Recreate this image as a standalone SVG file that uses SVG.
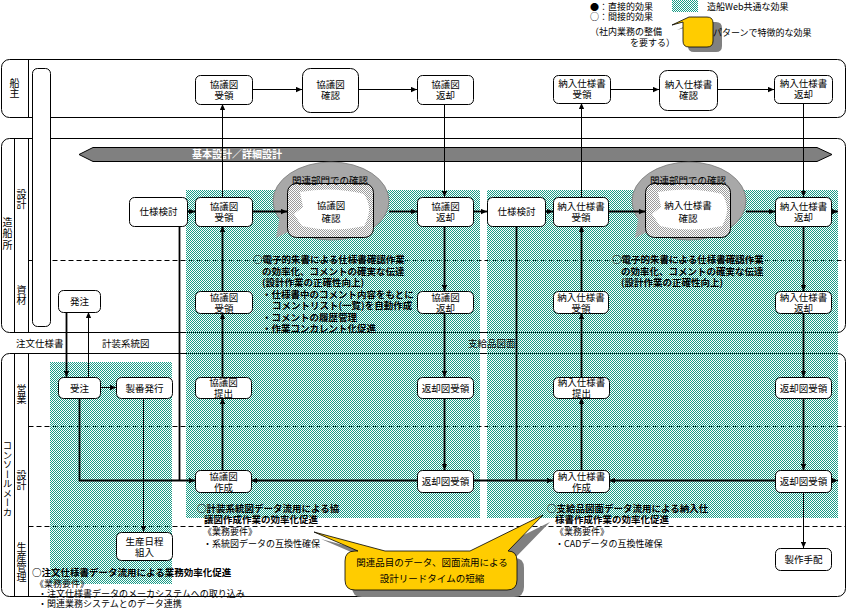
<svg xmlns="http://www.w3.org/2000/svg" width="847" height="612" viewBox="0 0 847 612">
<style>
text{font-family:"Noto Sans CJK JP","Noto Sans CJK SC",sans-serif;fill:#000}
.t{font-size:9.5px;text-anchor:middle}
.s{font-size:9px}
.b{font-size:9.5px;font-weight:bold}
.m{font-size:9.5px}
.v{font-size:10px;writing-mode:vertical-rl;text-anchor:middle}
.lane{fill:none;stroke:#000;stroke-width:1}
.sep{stroke:#000;stroke-width:1}
.dash{stroke:#000;stroke-width:1;stroke-dasharray:5 3}
.n rect{fill:#fff;stroke:#000;stroke-width:1}
.c path{fill:none;stroke:#000;marker-end:url(#a)}
.c .k{stroke-width:1.8}
.c .th{stroke-width:1}
.c .nm{marker-end:none}
</style>
<defs>
<pattern id="teal" width="2" height="2" patternUnits="userSpaceOnUse"><rect x="0" y="0" width="1" height="1" fill="#179c86"/><rect x="1" y="1" width="1" height="1" fill="#179c86"/></pattern>
<pattern id="lg" width="2" height="2" patternUnits="userSpaceOnUse"><rect width="2" height="2" fill="#fff"/><rect x="0" y="0" width="1" height="1" fill="#9a9a9a"/><rect x="1" y="1" width="1" height="1" fill="#9a9a9a"/></pattern>
<marker id="a" viewBox="0 0 8 8" refX="8" refY="4" markerWidth="6" markerHeight="6" orient="auto" markerUnits="userSpaceOnUse"><path d="M0,0.5 L8,4 L0,7.5 Z" fill="#000"/></marker>
</defs>
<rect width="847" height="612" fill="#fff"/>

<g id="legend">
<text class="s" x="590" y="10">●：直接的効果</text>
<text class="s" x="590" y="20">○：間接的効果</text>
<text class="s" x="590" y="35">（社内業務の整備</text>
<text class="s" x="630" y="46">を要する）</text>
<rect x="672" y="0" width="26" height="12" fill="url(#teal)"/>
<text class="s" x="707" y="10">造船Web共通な効果</text>
<path d="M694 22 L677 30 L688 27 L688 46 Q688 52 694 52 L716 52 Q722 52 722 46 L722 28 Q722 22 716 22 Z" fill="#808080"/>
<path d="M689 17 L672 25 L683 22 L683 41 Q683 47 689 47 L707 47 Q713 47 713 41 L713 23 Q713 17 707 17 Z" fill="#ffcc00" stroke="#000" stroke-width="0.8"/>
<text class="s" x="713" y="36">パターンで特徴的な効果</text>
</g>

<g id="lanes">
<rect class="lane" x="1.5" y="59.5" width="844" height="58" rx="8"/>
<line class="sep" x1="28.5" y1="59.5" x2="28.5" y2="117.5"/>
<rect class="lane" x="1.5" y="138.5" width="844" height="194" rx="8"/>
<line class="sep" x1="14.5" y1="138.5" x2="14.5" y2="332.5"/>
<line class="sep" x1="28.5" y1="138.5" x2="28.5" y2="332.5"/>
<line class="dash" x1="28.5" y1="260.5" x2="845.5" y2="260.5"/>
<rect class="lane" x="1.5" y="353.5" width="844" height="243" rx="8"/>
<line class="sep" x1="14.5" y1="353.5" x2="14.5" y2="596.5"/>
<line class="sep" x1="28.5" y1="353.5" x2="28.5" y2="596.5"/>
<line class="dash" x1="28.5" y1="426.5" x2="845.5" y2="426.5"/>
<line class="dash" x1="28.5" y1="526.5" x2="845.5" y2="526.5"/>
<text class="v" x="14.5" y="88">船主</text>
<text class="v" x="7.5" y="234" style="letter-spacing:1.5px">造船所</text>
<text class="v" x="21.5" y="199">設計</text>
<text class="v" x="21.5" y="295">資材</text>
<text class="v" x="21.5" y="394">営業</text>
<text class="v" x="21.5" y="480">設計</text>
<text class="v" x="21.5" y="562">生産管理</text>
<text class="v" x="7.5" y="479" style="font-size:9.5px">コンソールメーカ</text>
<rect x="32.5" y="68.5" width="18" height="258" rx="5" fill="#fff" stroke="#000"/>
</g>

<g id="effect-areas">
<rect x="50" y="362" width="122" height="222" fill="url(#teal)"/>
<rect x="186" y="190" width="294" height="328" fill="url(#teal)"/>
<rect x="487" y="190" width="351" height="328" fill="url(#teal)"/>
</g>

<g id="flow-labels">
<text class="m" x="16" y="346.5">注文仕様書</text>
<text class="m" x="102" y="346.5">計装系統図</text>
<text class="m" x="468" y="346.5">支給品図面</text>
</g>

<g id="phase-band">
<path d="M79 154.5 L93 147.5 L817 147.5 L832 154.5 L817 161.5 L93 161.5 Z" fill="#808080" stroke="#000" stroke-width="1"/>
<text x="237" y="158" style="font-size:10px;font-weight:bold;text-anchor:middle;fill:#fff">基本設計／詳細設計</text>
</g>

<g id="bubble-kyogizu">
<ellipse cx="331" cy="201" rx="58" ry="39" fill="#a8a8a8" stroke="#777" stroke-width="0.8"/>
<path d="M280 214 L292 230 L276 238 Z" fill="#a8a8a8"/>
<rect x="287.5" y="183.5" width="86" height="54" rx="9" fill="url(#lg)" stroke="#000"/>
<path d="M300 192 Q332 186 364 194 Q374 209 364 226 Q332 233 302 226 L294 214 L303 207 Z" fill="#fff"/>
<text class="m" x="330" y="183.5" style="text-anchor:middle">関連部門での確認</text>
<text class="t" x="331" y="208.5">協議図</text>
<text class="t" x="331" y="221.5">確認</text>
</g>
<g id="bubble-nonyu">
<ellipse cx="689" cy="201" rx="57" ry="39" fill="#a8a8a8" stroke="#777" stroke-width="0.8"/>
<path d="M639 214 L651 230 L635 238 Z" fill="#a8a8a8"/>
<rect x="645.5" y="183.5" width="85" height="54" rx="9" fill="url(#lg)" stroke="#000"/>
<path d="M658 192 Q690 186 722 194 Q732 209 722 226 Q690 233 660 226 L652 214 L661 207 Z" fill="#fff"/>
<text class="m" x="688" y="183.5" style="text-anchor:middle">関連部門での確認</text>
<text class="t" x="688" y="208.5">納入仕様書</text>
<text class="t" x="688" y="221.5">確認</text>
</g>

<g class="c" id="connectors">
<path class="th" d="M252 89.5H302"/>
<path class="th" d="M358 89.5H417"/>
<path class="th" d="M610 89.5H659"/>
<path class="th" d="M717 89.5H774"/>
<path class="th" d="M222.5 197V104"/>
<path class="th" d="M444.5 104V197"/>
<path class="th" d="M581.5 197V103"/>
<path class="th" d="M803.5 103V197"/>
<path class="k" d="M187 211.5H195"/>
<path class="k" d="M252 211.5H287"/>
<path class="k" d="M389 211.5H417"/>
<path class="k" d="M473 211.5H487"/>
<path class="k" d="M545 211.5H553"/>
<path class="k" d="M608 211.5H645"/>
<path class="k" d="M746 211.5H775"/>
<path class="k" d="M831 211.5H838"/>
<path class="k" d="M222.5 291V226"/>
<path class="k" d="M444.5 226V291"/>
<path class="k" d="M581.5 291V226"/>
<path class="k" d="M803.5 226V291"/>
<path class="k nm" d="M179.5 226V480.5"/>
<path class="k nm" d="M516.5 226V480.5"/>
<path class="k" d="M66.5 312V377"/>
<path class="th" d="M88.5 377V312"/>
<path class="k" d="M222.5 377V313"/>
<path class="k" d="M444.5 313V377"/>
<path class="k" d="M581.5 377V313"/>
<path class="k" d="M803.5 313V377"/>
<path class="th" d="M100 387.5H116"/>
<path class="k" d="M79.5 398V480.5H195"/>
<path class="th" d="M143.5 398V532"/>
<path class="k" d="M222.5 470V398"/>
<path class="k" d="M444.5 398V470"/>
<path class="k" d="M417 480.5H251"/>
<path class="k" d="M473 480.5H553"/>
<path class="k" d="M581.5 470V398"/>
<path class="k" d="M803.5 398V470"/>
<path class="k" d="M775 480.5H609"/>
<path class="th" d="M831 480.5H838"/>
<path class="th" d="M803.5 492V548"/>
</g>

<g class="n" id="n-kyogizu-juryo-shu"><rect x="195.5" y="75.5" width="57" height="29" rx="5"/><text class="t" x="224" y="87.5">協議図</text><text class="t" x="224" y="98.5">受領</text></g>
<g class="n" id="n-kyogizu-kakunin-shu"><rect x="302.5" y="68.5" width="56" height="44" rx="8"/><text class="t" x="330.5" y="88">協議図</text><text class="t" x="330.5" y="99">確認</text></g>
<g class="n" id="n-kyogizu-henkyaku-shu"><rect x="417.5" y="75.5" width="56" height="29" rx="5"/><text class="t" x="445.5" y="87.5">協議図</text><text class="t" x="445.5" y="98.5">返却</text></g>
<g class="n" id="n-nonyu-juryo-shu"><rect x="553.5" y="75.5" width="57" height="28" rx="5"/><text class="t" x="582" y="87">納入仕様書</text><text class="t" x="582" y="98">受領</text></g>
<g class="n" id="n-nonyu-kakunin-shu"><rect x="659.5" y="70.5" width="58" height="40" rx="8"/><text class="t" x="688.5" y="88">納入仕様書</text><text class="t" x="688.5" y="99">確認</text></g>
<g class="n" id="n-nonyu-henkyaku-shu"><rect x="774.5" y="75.5" width="58" height="28" rx="5"/><text class="t" x="803.5" y="87">納入仕様書</text><text class="t" x="803.5" y="98">返却</text></g>

<g class="n" id="n-shiyo-kento-1"><rect x="129.5" y="197.5" width="58" height="29" rx="5"/><text class="t" x="158.5" y="215">仕様検討</text></g>
<g class="n" id="n-kyogizu-juryo-sekkei"><rect x="195.5" y="197.5" width="57" height="29" rx="5"/><text class="t" x="224" y="209.5">協議図</text><text class="t" x="224" y="220.5">受領</text></g>
<g class="n" id="n-kyogizu-henkyaku-sekkei"><rect x="417.5" y="197.5" width="56" height="29" rx="5"/><text class="t" x="445.5" y="209.5">協議図</text><text class="t" x="445.5" y="220.5">返却</text></g>
<g class="n" id="n-shiyo-kento-2"><rect x="487.5" y="197.5" width="58" height="29" rx="5"/><text class="t" x="516.5" y="215">仕様検討</text></g>
<g class="n" id="n-nonyu-juryo-sekkei"><rect x="553.5" y="197.5" width="55" height="29" rx="5"/><text class="t" x="581" y="209.5">納入仕様書</text><text class="t" x="581" y="220.5">受領</text></g>
<g class="n" id="n-nonyu-henkyaku-sekkei"><rect x="775.5" y="197.5" width="56" height="29" rx="5"/><text class="t" x="803.5" y="209.5">納入仕様書</text><text class="t" x="803.5" y="220.5">返却</text></g>

<g class="n" id="n-hachu"><rect x="58.5" y="290.5" width="42" height="22" rx="5"/><text class="t" x="79.5" y="305">発注</text></g>
<g class="n" id="n-kyogizu-juryo-shizai"><rect x="195.5" y="291.5" width="57" height="22" rx="5"/><text class="t" x="224" y="300.5">協議図</text><text class="t" x="224" y="311.5">受領</text></g>
<g class="n" id="n-kyogizu-henkyaku-shizai"><rect x="417.5" y="291.5" width="56" height="22" rx="5"/><text class="t" x="445.5" y="300.5">協議図</text><text class="t" x="445.5" y="311.5">返却</text></g>
<g class="n" id="n-nonyu-juryo-shizai"><rect x="553.5" y="291.5" width="55" height="22" rx="5"/><text class="t" x="581" y="300.5">納入仕様書</text><text class="t" x="581" y="311.5">受領</text></g>
<g class="n" id="n-nonyu-henkyaku-shizai"><rect x="775.5" y="291.5" width="56" height="22" rx="5"/><text class="t" x="803.5" y="300.5">納入仕様書</text><text class="t" x="803.5" y="311.5">返却</text></g>

<g class="n" id="n-juchu"><rect x="58.5" y="377.5" width="42" height="21" rx="5"/><text class="t" x="79.5" y="391.5">受注</text></g>
<g class="n" id="n-seiban"><rect x="116.5" y="377.5" width="56" height="21" rx="5"/><text class="t" x="144.5" y="391.5">製番発行</text></g>
<g class="n" id="n-kyogizu-teishutsu"><rect x="195.5" y="377.5" width="56" height="21" rx="5"/><text class="t" x="223.5" y="386">協議図</text><text class="t" x="223.5" y="397">提出</text></g>
<g class="n" id="n-henkyakuzu-1"><rect x="417.5" y="377.5" width="56" height="21" rx="5"/><text class="t" x="445.5" y="391.5">返却図受領</text></g>
<g class="n" id="n-nonyu-teishutsu"><rect x="553.5" y="377.5" width="56" height="21" rx="5"/><text class="t" x="581.5" y="386">納入仕様書</text><text class="t" x="581.5" y="397">提出</text></g>
<g class="n" id="n-henkyakuzu-2"><rect x="775.5" y="377.5" width="56" height="21" rx="5"/><text class="t" x="803.5" y="391.5">返却図受領</text></g>

<g class="n" id="n-kyogizu-sakusei"><rect x="195.5" y="470.5" width="56" height="22" rx="5"/><text class="t" x="223.5" y="479.5">協議図</text><text class="t" x="223.5" y="490.5">作成</text></g>
<g class="n" id="n-henkyakuzu-3"><rect x="417.5" y="470.5" width="56" height="22" rx="5"/><text class="t" x="445.5" y="485">返却図受領</text></g>
<g class="n" id="n-nonyu-sakusei"><rect x="553.5" y="470.5" width="56" height="22" rx="5"/><text class="t" x="581.5" y="479.5">納入仕様書</text><text class="t" x="581.5" y="490.5">作成</text></g>
<g class="n" id="n-henkyakuzu-4"><rect x="775.5" y="470.5" width="56" height="22" rx="5"/><text class="t" x="803.5" y="485">返却図受領</text></g>

<g class="n" id="n-seisan-nittei"><rect x="116.5" y="532.5" width="56" height="28" rx="5"/><text class="t" x="144.5" y="545">生産日程</text><text class="t" x="144.5" y="556">組入</text></g>
<g class="n" id="n-seisaku-tehai"><rect x="775.5" y="548.5" width="56" height="22" rx="5"/><text class="t" x="803.5" y="563">製作手配</text></g>

<g id="notes">
<text class="b" x="253" y="262.5">○電子的朱書による仕様書確認作業</text>
<text class="b" x="262" y="274.5">の効率化、コメントの確実な伝達</text>
<text class="b" x="262" y="286">(設計作業の正確性向上)</text>
<text class="b" x="262" y="297.5">・仕様書中のコメント内容をもとに</text>
<text class="b" x="272" y="309">コメントリスト(一覧)を自動作成</text>
<text class="b" x="262" y="320.5">・コメントの履歴管理</text>
<text class="b" x="262" y="332">・作業コンカレント化促進</text>

<text class="b" x="612" y="262.5">○電子的朱書による仕様書確認作業</text>
<text class="b" x="621" y="274.5">の効率化、コメントの確実な伝達</text>
<text class="b" x="621" y="286">(設計作業の正確性向上)</text>

<text class="b" x="197" y="511.5">○計装系統図データ流用による協</text>
<text class="b" x="204" y="522.5">議図作成作業の効率化促進</text>
<text class="s" x="203" y="535">《業務要件》</text>
<text class="s" x="203" y="546.5">・系統図データの互換性確保</text>

<text class="b" x="547" y="511.5">○支給品図面データ流用による納入仕</text>
<text class="b" x="555" y="522.5">様書作成作業の効率化促進</text>
<text class="s" x="555" y="535">《業務要件》</text>
<text class="s" x="555" y="546.5">・CADデータの互換性確保</text>

<text class="b" x="32" y="575.5">○注文仕様書データ流用による業務効率化促進</text>
<text class="s" x="35" y="586.5">《業務要件》</text>
<text class="s" x="38" y="596.5">・注文仕様書データのメーカシステムへの取り込み</text>
<text class="s" x="38" y="607">・関連業務システムとのデータ連携</text>
</g>

<g id="callout">
<path transform="translate(7,7)" d="M355 551 L358 551 L314 532 L385 551 L470 551 L543 515 L508 551 Q517 551 517 561 L517 580 Q517 590 507 590 L355 590 Q345 590 345 580 L345 561 Q345 551 355 551 Z" fill="#808080"/>
<path d="M355 551 L358 551 L314 532 L385 551 L470 551 L543 515 L508 551 Q517 551 517 561 L517 580 Q517 590 507 590 L355 590 Q345 590 345 580 L345 561 Q345 551 355 551 Z" fill="#ffcc00" stroke="#000" stroke-width="0.8"/>
<text class="m" x="432" y="565.5" style="text-anchor:middle">関連品目のデータ、図面流用による</text>
<text class="m" x="432" y="582" style="text-anchor:middle">設計リードタイムの短縮</text>
</g>
</svg>
